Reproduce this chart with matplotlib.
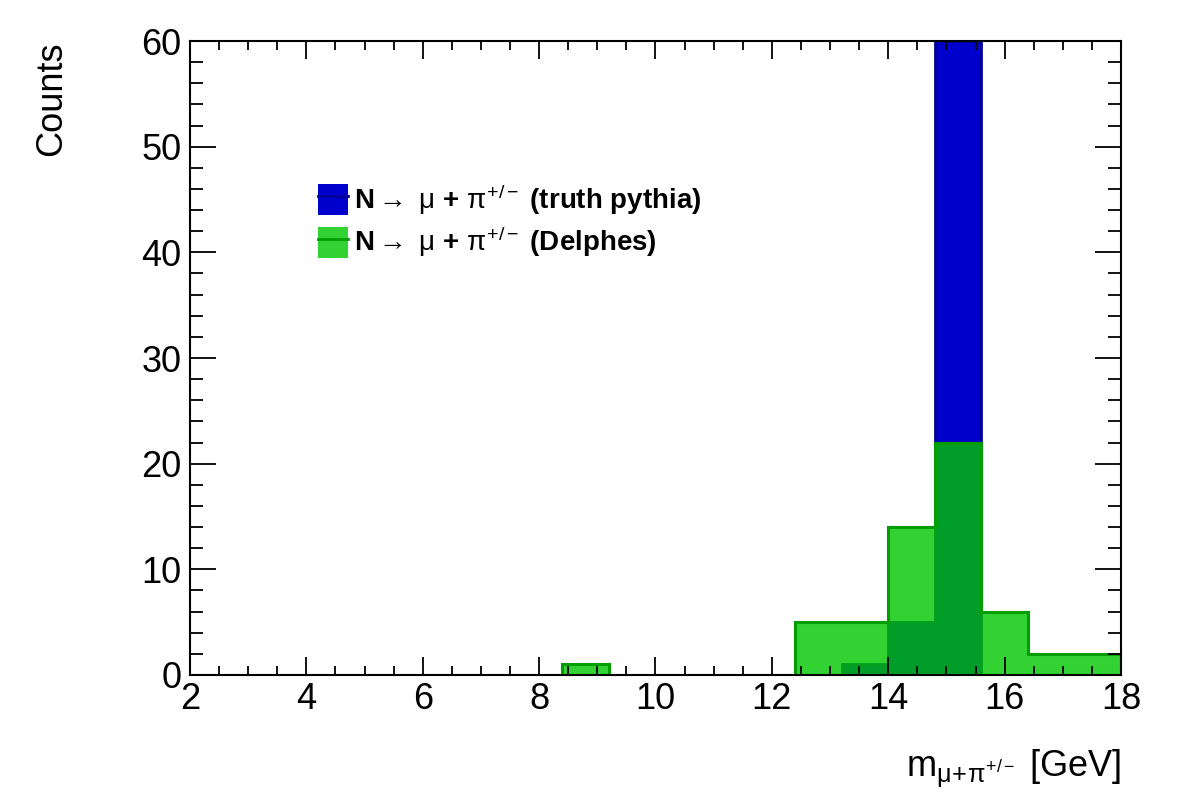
import numpy as np
import matplotlib
matplotlib.use("Agg")
import matplotlib.pyplot as plt
from matplotlib.patches import Patch
from matplotlib.lines import Line2D
from matplotlib.ticker import MultipleLocator

plt.rcParams['font.family'] = ['Liberation Sans', 'DejaVu Sans']
plt.rcParams['mathtext.fontset'] = 'custom'
plt.rcParams['mathtext.rm'] = 'Liberation Sans'
plt.rcParams['mathtext.it'] = 'Liberation Sans'

# binning: 20 bins from 2 to 18 GeV
bordas = np.linspace(2, 18, 21)

# truth pythia
truth = [0, 0, 0, 0, 0, 0, 0, 0, 0, 0, 0, 0, 0, 0, 1, 5, 60, 0, 0, 0]
# delphes
delphes = [0, 0, 0, 0, 0, 0, 0, 0, 1, 0, 0, 0, 0, 5, 5, 14, 22, 6, 2, 2]

azul = (0.0, 0.0, 0.8)
azul_linha = (0.0, 0.0, 0.6)
verde = (0.0, 0.78, 0.0, 0.8)
verde_linha = (0.0, 0.62, 0.0)

fig = plt.figure(figsize=(11.82, 8.05), dpi=100)
ax = fig.add_axes([0.1607, 0.1615, 0.7877, 0.7875])

ax.stairs(truth, bordas, fill=True, color=azul)
ax.stairs(truth, bordas, color=azul_linha, linewidth=2)
ax.stairs(delphes, bordas, fill=True, color=verde)
ax.stairs(delphes, bordas, color=verde_linha, linewidth=2.2)

ax.set_xlim(2, 18)
ax.set_ylim(0, 60)

ax.xaxis.set_major_locator(MultipleLocator(2))
ax.xaxis.set_minor_locator(MultipleLocator(0.5))
ax.yaxis.set_major_locator(MultipleLocator(10))
ax.yaxis.set_minor_locator(MultipleLocator(2))

ax.tick_params(which='both', direction='in', top=True, right=True, width=1.3, labelsize=26)
ax.tick_params(axis='x', which='major', length=13, pad=5)
ax.tick_params(axis='x', which='minor', length=6.5)
ax.tick_params(axis='y', which='major', length=19, pad=6)
ax.tick_params(axis='y', which='minor', length=9.5)
for s in ax.spines.values():
    s.set_linewidth(1.5)

ax.set_xlabel(r"m$_{\mu\!+\!\pi^{+/-}}$ [GeV]", fontsize=26, loc='right')
ax.xaxis.set_label_coords(1.0, -0.115)
ax.set_ylabel("Counts", fontsize=26, loc='top')
ax.yaxis.set_label_coords(-0.13, 1.0)

h1 = (Patch(facecolor=azul, edgecolor='none'), Line2D([], [], color=azul_linha, lw=2))
h2 = (Patch(facecolor=verde, edgecolor='none'), Line2D([], [], color=verde_linha, lw=2))
leg = ax.legend([h1, h2],
                [r"N$\rightarrow$ $\mu$ + $\pi^{+/-}$ (truth pythia)",
                 r"N$\rightarrow$ $\mu$ + $\pi^{+/-}$ (Delphes)"],
                loc='upper left', bbox_to_anchor=(0.126, 0.795), frameon=False,
                prop={'weight': 'bold', 'size': 20}, handlelength=1.05, handleheight=1.35,
                handletextpad=0.25, labelspacing=0.3, borderaxespad=0)

fig.savefig("out.png", dpi=100)
